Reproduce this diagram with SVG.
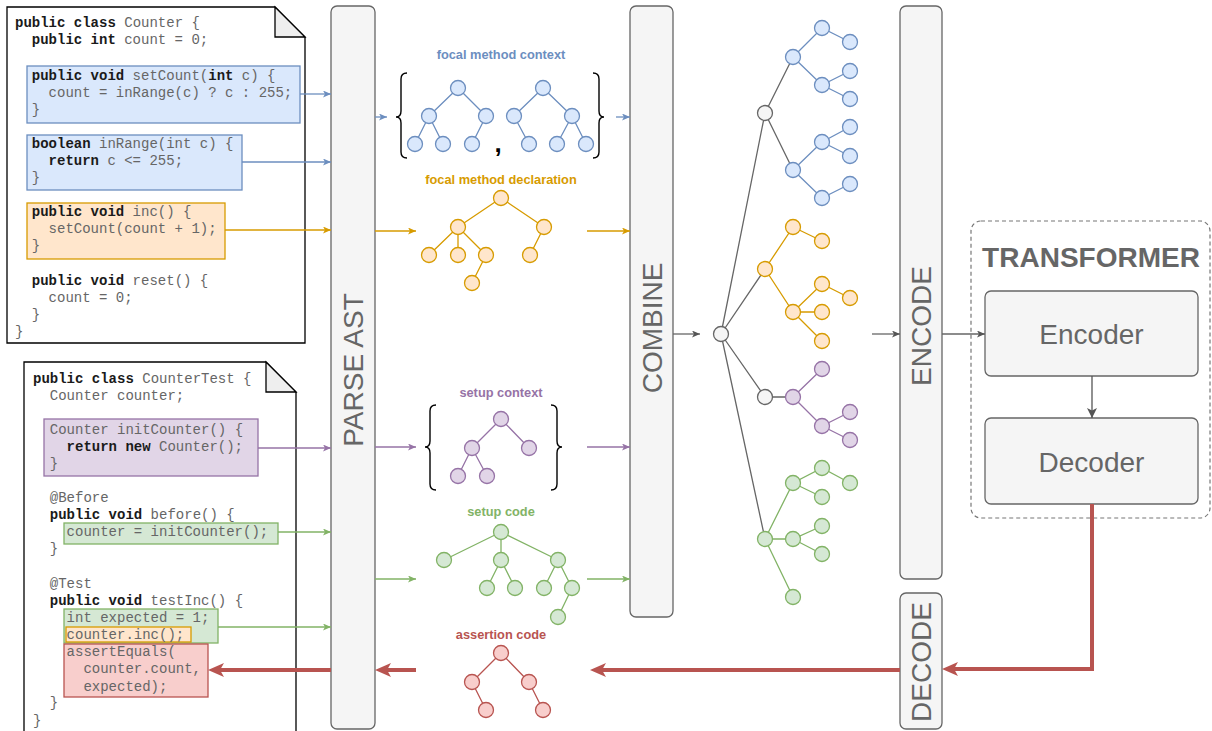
<svg xmlns="http://www.w3.org/2000/svg" width="1212" height="731" viewBox="0 0 1212 731">
<style>
.code{font-family:"Liberation Mono","Courier New",monospace;font-size:14px;fill:#666}
.k{font-weight:bold;fill:#1a1a1a}
.bar{fill:#f5f5f5;stroke:#666;stroke-width:1.3}
.bartxt{font-family:"Liberation Sans",Arial,sans-serif;font-size:28px;fill:#666}
.lbl{font-family:"Liberation Sans",Arial,sans-serif;font-size:12.8px;font-weight:bold;text-anchor:middle}
.e{fill:none;stroke-width:1.3}
.n circle{stroke-width:1.3}
.blue{fill:#dae8fc;stroke:#6c8ebf}
.orange{fill:#ffe6cc;stroke:#d79b00}
.purple{fill:#e1d5e7;stroke:#9673a6}
.green{fill:#d5e8d4;stroke:#82b366}
.red{fill:#f8cecc;stroke:#b85450}
.gray{fill:#f5f5f5;stroke:#666}
.brace{fill:none;stroke:#000;stroke-width:1.4}
</style>
<defs>
<marker id="aBlue" markerUnits="userSpaceOnUse" markerWidth="8" markerHeight="7" refX="8" refY="3.5" orient="auto" viewBox="0 0 8 7"><path d="M0,0 L8,3.5 L0,7 L2,3.5 Z" fill="#6c8ebf"/></marker>
<marker id="aOrange" markerUnits="userSpaceOnUse" markerWidth="8" markerHeight="7" refX="8" refY="3.5" orient="auto" viewBox="0 0 8 7"><path d="M0,0 L8,3.5 L0,7 L2,3.5 Z" fill="#d79b00"/></marker>
<marker id="aPurple" markerUnits="userSpaceOnUse" markerWidth="8" markerHeight="7" refX="8" refY="3.5" orient="auto" viewBox="0 0 8 7"><path d="M0,0 L8,3.5 L0,7 L2,3.5 Z" fill="#9673a6"/></marker>
<marker id="aGreen" markerUnits="userSpaceOnUse" markerWidth="8" markerHeight="7" refX="8" refY="3.5" orient="auto" viewBox="0 0 8 7"><path d="M0,0 L8,3.5 L0,7 L2,3.5 Z" fill="#82b366"/></marker>
<marker id="aGray" markerUnits="userSpaceOnUse" markerWidth="8" markerHeight="7" refX="8" refY="3.5" orient="auto" viewBox="0 0 8 7"><path d="M0,0 L8,3.5 L0,7 L2,3.5 Z" fill="#555"/></marker>
<marker id="aGrayBig" markerUnits="userSpaceOnUse" markerWidth="10" markerHeight="10" refX="10" refY="5" orient="auto" viewBox="0 0 10 10"><path d="M0,0 L10,5 L0,10 L2.5,5 Z" fill="#555"/></marker>
<marker id="aRed" markerUnits="userSpaceOnUse" markerWidth="16" markerHeight="14" refX="4" refY="7" orient="auto" viewBox="0 0 16 14"><path d="M0,0 L16,7 L0,14 L4,7 Z" fill="#b85450"/></marker>
</defs>

<!-- Source document -->
<g id="source-doc">
<path d="M7,7 L275,7 L305,37 L305,343 L7,343 Z" fill="#fff" stroke="#000" stroke-width="1.3"/>
<path d="M275,7 L275,37 L305,37 Z" fill="#eeeeee" stroke="#000" stroke-width="1.3"/>
<rect x="27" y="66" width="273" height="57" class="blue" stroke-width="1.3"/>
<rect x="27" y="135" width="215" height="55" class="blue" stroke-width="1.3"/>
<rect x="27" y="203" width="198" height="56" class="orange" stroke-width="1.3"/>
<text class="code" x="15" y="27"><tspan class="k">public class</tspan> Counter {</text>
<text class="code" x="31.8" y="44"><tspan class="k">public int</tspan> count = 0;</text>
<text class="code" x="31.8" y="80"><tspan class="k">public void</tspan> setCount(<tspan class="k">int</tspan> c) {</text>
<text class="code" x="48.6" y="97">count = inRange(c) ? c : 255;</text>
<text class="code" x="31.8" y="114">}</text>
<text class="code" x="31.8" y="148"><tspan class="k">boolean</tspan> inRange(int c) {</text>
<text class="code" x="48.6" y="165"><tspan class="k">return</tspan> c &lt;= 255;</text>
<text class="code" x="31.8" y="182">}</text>
<text class="code" x="31.8" y="216"><tspan class="k">public void</tspan> inc() {</text>
<text class="code" x="48.6" y="233">setCount(count + 1);</text>
<text class="code" x="31.8" y="250">}</text>
<text class="code" x="31.8" y="285"><tspan class="k">public void</tspan> reset() {</text>
<text class="code" x="48.6" y="302">count = 0;</text>
<text class="code" x="31.8" y="319">}</text>
<text class="code" x="15" y="336">}</text>
</g>

<!-- Test document -->
<g id="test-doc">
<path d="M24,740 L24,362 L266,362 L296,392 L296,740" fill="#fff" stroke="#000" stroke-width="1.3"/>
<path d="M266,362 L266,392 L296,392 Z" fill="#eeeeee" stroke="#000" stroke-width="1.3"/>
<rect x="44" y="419" width="214" height="57" class="purple" stroke-width="1.3"/>
<rect x="64" y="523" width="214" height="21" class="green" stroke-width="1.3"/>
<rect x="64" y="609" width="154" height="34" class="green" stroke-width="1.3"/>
<rect x="66" y="627" width="125" height="15" class="orange" stroke-width="1.3"/>
<rect x="64" y="644" width="144" height="53" class="red" stroke-width="1.3"/>
<text class="code" x="33" y="383"><tspan class="k">public class</tspan> CounterTest {</text>
<text class="code" x="49.8" y="400">Counter counter;</text>
<text class="code" x="49.8" y="434">Counter initCounter() {</text>
<text class="code" x="66.6" y="451"><tspan class="k">return new</tspan> Counter();</text>
<text class="code" x="49.8" y="468">}</text>
<text class="code" x="49.8" y="502">@Before</text>
<text class="code" x="49.8" y="519"><tspan class="k">public void</tspan> before() {</text>
<text class="code" x="66.6" y="536">counter = initCounter();</text>
<text class="code" x="49.8" y="553">}</text>
<text class="code" x="49.8" y="588">@Test</text>
<text class="code" x="49.8" y="605"><tspan class="k">public void</tspan> testInc() {</text>
<text class="code" x="66.6" y="622">int expected = 1;</text>
<text class="code" x="66.6" y="639">counter.inc();</text>
<text class="code" x="66.6" y="656">assertEquals(</text>
<text class="code" x="83.4" y="673">counter.count,</text>
<text class="code" x="83.4" y="691">expected);</text>
<text class="code" x="49.8" y="707">}</text>
<text class="code" x="33" y="725">}</text>
</g>

<!-- Bars -->
<g id="parse-ast">
<rect x="331" y="6" width="44" height="723" rx="6" class="bar"/>
<text class="bartxt" transform="translate(353,370) rotate(-90)" text-anchor="middle" dy="10">PARSE AST</text>
</g>
<g id="combine">
<rect x="630" y="6" width="43" height="611" rx="6" class="bar"/>
<text class="bartxt" transform="translate(651.5,328) rotate(-90)" text-anchor="middle" dy="10">COMBINE</text>
</g>
<g id="encode">
<rect x="900" y="6" width="42" height="573" rx="6" class="bar"/>
<text class="bartxt" transform="translate(921,326) rotate(-90)" text-anchor="middle" dy="10">ENCODE</text>
</g>
<g id="decode">
<rect x="900" y="593" width="42" height="136" rx="6" class="bar"/>
<text class="bartxt" transform="translate(921,662) rotate(-90)" text-anchor="middle" dy="10">DECODE</text>
</g>

<!-- Transformer -->
<g id="transformer">
<rect x="971" y="221" width="239" height="297" rx="10" fill="none" stroke="#777" stroke-width="1.2" stroke-dasharray="4 3"/>
<text x="1091" y="267" text-anchor="middle" font-family="'Liberation Sans',Arial,sans-serif" font-size="28" font-weight="bold" fill="#666">TRANSFORMER</text>
</g>
<g id="encoder">
<rect x="985" y="291" width="213" height="85" rx="6" class="bar"/>
<text x="1091.5" y="344" text-anchor="middle" class="bartxt">Encoder</text>
</g>
<g id="decoder">
<rect x="985" y="418" width="213" height="86" rx="6" class="bar"/>
<text x="1091.5" y="472" text-anchor="middle" class="bartxt">Decoder</text>
</g>

<!-- Focal method context -->
<g id="focal-method-context">
<text class="lbl" x="501" y="59" fill="#6c8ebf">focal method context</text>
<path class="brace" d="M407,73 Q401,73 401,79 L401,111 Q401,117 396,117 Q401,117 401,123 L401,152 Q401,158 407,158"/>
<path class="brace" d="M593,73 Q599,73 599,79 L599,111 Q599,117 604,117 Q599,117 599,123 L599,152 Q599,158 593,158"/>
<text x="498" y="152" text-anchor="middle" font-family="'Liberation Sans',Arial,sans-serif" font-size="26" font-weight="bold" fill="#000">,</text>
<path class="e" stroke="#6c8ebf" d="M458,88 L429,116 M458,88 L486,116 M429,116 L415,144 M429,116 L443,144 M486,116 L472,144 M543,88 L514,116 M543,88 L572,116 M514,116 L529,144 M572,116 L557,144 M572,116 L586,144"/>
<g class="n blue">
<circle cx="458" cy="88" r="7.5"/><circle cx="429" cy="116" r="7.5"/><circle cx="486" cy="116" r="7.5"/>
<circle cx="415" cy="144" r="7.5"/><circle cx="443" cy="144" r="7.5"/><circle cx="472" cy="144" r="7.5"/>
<circle cx="543" cy="88" r="7.5"/><circle cx="514" cy="116" r="7.5"/><circle cx="572" cy="116" r="7.5"/>
<circle cx="529" cy="144" r="7.5"/><circle cx="557" cy="144" r="7.5"/><circle cx="586" cy="144" r="7.5"/>
</g>
</g>

<!-- Focal method declaration -->
<g id="focal-method-declaration">
<text class="lbl" x="501" y="184" fill="#d79b00">focal method declaration</text>
<path class="e" stroke="#d79b00" d="M501,198 L458,227 M501,198 L544,227 M458,227 L429,255 M458,227 L458,255 M458,227 L486,255 M486,255 L472,283 M544,227 L530,255"/>
<g class="n orange">
<circle cx="501" cy="198" r="7.5"/><circle cx="458" cy="227" r="7.5"/><circle cx="544" cy="227" r="7.5"/>
<circle cx="429" cy="255" r="7.5"/><circle cx="458" cy="255" r="7.5"/><circle cx="486" cy="255" r="7.5"/>
<circle cx="530" cy="255" r="7.5"/><circle cx="472" cy="283" r="7.5"/>
</g>
</g>

<!-- Setup context -->
<g id="setup-context">
<text class="lbl" x="501" y="397" fill="#9673a6">setup context</text>
<path class="brace" d="M436,405 Q430,405 430,411 L430,441 Q430,447 425,447 Q430,447 430,453 L430,484 Q430,490 436,490"/>
<path class="brace" d="M551,405 Q557,405 557,411 L557,441 Q557,447 562,447 Q557,447 557,453 L557,484 Q557,490 551,490"/>
<path class="e" stroke="#9673a6" d="M501,419 L472,448 M501,419 L529,448 M472,448 L458,476 M472,448 L487,476"/>
<g class="n purple">
<circle cx="501" cy="419" r="7.5"/><circle cx="472" cy="448" r="7.5"/><circle cx="529" cy="448" r="7.5"/>
<circle cx="458" cy="476" r="7.5"/><circle cx="487" cy="476" r="7.5"/>
</g>
</g>

<!-- Setup code -->
<g id="setup-code">
<text class="lbl" x="501" y="516" fill="#82b366">setup code</text>
<path class="e" stroke="#82b366" d="M501,532 L444,560 M501,532 L501,560 M501,532 L558,560 M501,560 L487,588 M501,560 L515,588 M558,560 L544,588 M558,560 L572,588 M572,588 L558,617"/>
<g class="n green">
<circle cx="501" cy="532" r="7.5"/><circle cx="444" cy="560" r="7.5"/><circle cx="501" cy="560" r="7.5"/>
<circle cx="558" cy="560" r="7.5"/><circle cx="487" cy="588" r="7.5"/><circle cx="515" cy="588" r="7.5"/>
<circle cx="544" cy="588" r="7.5"/><circle cx="572" cy="588" r="7.5"/><circle cx="558" cy="617" r="7.5"/>
</g>
</g>

<!-- Assertion code -->
<g id="assertion-code">
<text class="lbl" x="501" y="639" fill="#b85450">assertion code</text>
<path class="e" stroke="#b85450" d="M501,653 L472,682 M501,653 L529,682 M472,682 L486,710 M529,682 L543,710"/>
<g class="n red">
<circle cx="501" cy="653" r="7.5"/><circle cx="472" cy="682" r="7.5"/><circle cx="529" cy="682" r="7.5"/>
<circle cx="486" cy="710" r="7.5"/><circle cx="543" cy="710" r="7.5"/>
</g>
</g>

<!-- Combined tree -->
<g id="combined-tree">
<path class="e" stroke="#666" d="M721,334 L765,113 M721,334 L765,269 M721,334 L765,397 M721,334 L765,539 M765,113 L793,57 M765,113 L793,170 M765,397 L793,397"/>
<path class="e" stroke="#6c8ebf" d="M793,57 L822,28 L850,42 M793,57 L822,85 L850,71 M822,85 L850,99 M793,170 L822,142 L850,127 M822,142 L850,156 M793,170 L822,198 L850,184"/>
<path class="e" stroke="#d79b00" d="M765,269 L793,227 L822,241 M765,269 L793,312 L822,284 L850,298 M793,312 L822,312 M793,312 L822,341"/>
<path class="e" stroke="#9673a6" d="M793,397 L822,369 M793,397 L822,426 L850,412 M822,426 L850,440"/>
<path class="e" stroke="#82b366" d="M765,539 L793,483 L822,468 L850,483 M793,483 L822,497 M765,539 L793,539 L822,526 M793,539 L822,554 M765,539 L793,597"/>
<g class="n gray">
<circle cx="721" cy="334" r="7.5"/><circle cx="765" cy="113" r="7.5"/><circle cx="765" cy="397" r="7.5"/>
</g>
<g class="n blue">
<circle cx="793" cy="57" r="7.5"/><circle cx="822" cy="28" r="7.5"/><circle cx="850" cy="42" r="7.5"/>
<circle cx="822" cy="85" r="7.5"/><circle cx="850" cy="71" r="7.5"/><circle cx="850" cy="99" r="7.5"/>
<circle cx="793" cy="170" r="7.5"/><circle cx="822" cy="142" r="7.5"/><circle cx="850" cy="127" r="7.5"/>
<circle cx="850" cy="156" r="7.5"/><circle cx="822" cy="198" r="7.5"/><circle cx="850" cy="184" r="7.5"/>
</g>
<g class="n orange">
<circle cx="765" cy="269" r="7.5"/><circle cx="793" cy="227" r="7.5"/><circle cx="822" cy="241" r="7.5"/>
<circle cx="793" cy="312" r="7.5"/><circle cx="822" cy="284" r="7.5"/><circle cx="850" cy="298" r="7.5"/>
<circle cx="822" cy="312" r="7.5"/><circle cx="822" cy="341" r="7.5"/>
</g>
<g class="n purple">
<circle cx="793" cy="397" r="7.5"/><circle cx="822" cy="369" r="7.5"/><circle cx="822" cy="426" r="7.5"/>
<circle cx="850" cy="412" r="7.5"/><circle cx="850" cy="440" r="7.5"/>
</g>
<g class="n green">
<circle cx="765" cy="539" r="7.5"/><circle cx="793" cy="483" r="7.5"/><circle cx="822" cy="468" r="7.5"/>
<circle cx="850" cy="483" r="7.5"/><circle cx="822" cy="497" r="7.5"/><circle cx="793" cy="539" r="7.5"/>
<circle cx="822" cy="526" r="7.5"/><circle cx="822" cy="554" r="7.5"/><circle cx="793" cy="597" r="7.5"/>
</g>
</g>

<!-- Connectors -->
<g id="connectors" fill="none" stroke-width="1.3">
<path d="M300,94 L331,94" stroke="#6c8ebf" marker-end="url(#aBlue)"/>
<path d="M242,162 L331,162" stroke="#6c8ebf" marker-end="url(#aBlue)"/>
<path d="M225,230 L331,230" stroke="#d79b00" marker-end="url(#aOrange)"/>
<path d="M258,448 L331,448" stroke="#9673a6" marker-end="url(#aPurple)"/>
<path d="M278,532 L331,532" stroke="#82b366" marker-end="url(#aGreen)"/>
<path d="M218,627 L331,627" stroke="#82b366" marker-end="url(#aGreen)"/>

<path d="M375,117 L387,117" stroke="#6c8ebf" marker-end="url(#aBlue)"/>
<path d="M375,231 L416,231" stroke="#d79b00" marker-end="url(#aOrange)"/>
<path d="M375,447 L416,447" stroke="#9673a6" marker-end="url(#aPurple)"/>
<path d="M375,579 L416,579" stroke="#82b366" marker-end="url(#aGreen)"/>

<path d="M616,117 L630,117" stroke="#6c8ebf" marker-end="url(#aBlue)"/>
<path d="M587,231 L630,231" stroke="#d79b00" marker-end="url(#aOrange)"/>
<path d="M587,447 L630,447" stroke="#9673a6" marker-end="url(#aPurple)"/>
<path d="M587,579 L630,579" stroke="#82b366" marker-end="url(#aGreen)"/>

<path d="M673,334 L700,334" stroke="#666" marker-end="url(#aGray)"/>
<path d="M872,334 L900,334" stroke="#666" marker-end="url(#aGray)"/>
<path d="M942,334 L985,334" stroke="#666" marker-end="url(#aGray)"/>
<path d="M1092,376 L1092,418" stroke="#555" marker-end="url(#aGrayBig)"/>

<path d="M1092,504 L1092,669 L954,669" stroke="#b85450" stroke-width="4" marker-end="url(#aRed)"/>
<path d="M900,670 L602,670" stroke="#b85450" stroke-width="4" marker-end="url(#aRed)"/>
<path d="M416,670 L387,670" stroke="#b85450" stroke-width="4" marker-end="url(#aRed)"/>
<path d="M331,670 L220,670" stroke="#b85450" stroke-width="4" marker-end="url(#aRed)"/>
</g>
</svg>
